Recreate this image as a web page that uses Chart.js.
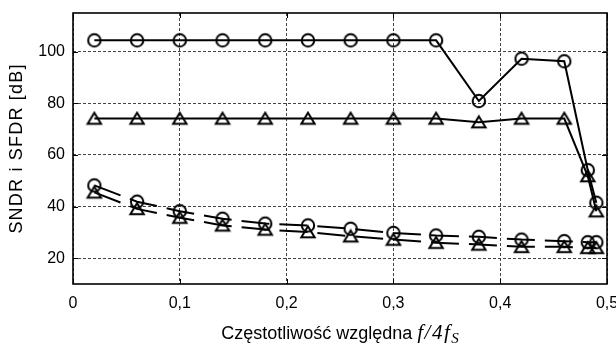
<!DOCTYPE html>
<html>
<head>
<meta charset="utf-8">
<script src="https://cdn.jsdelivr.net/npm/chart.js@4.4.1/dist/chart.umd.min.js"></script>
<style>
  html, body { margin: 0; padding: 0; background: #fff; }
</style>
</head>
<body>
<canvas id="chart" width="616" height="343"></canvas>
<script>
// dane
const xValues = [0.02, 0.06, 0.10, 0.14, 0.18, 0.22, 0.26, 0.30, 0.34, 0.38, 0.42, 0.46, 0.482, 0.49];
const sfdrCircle = [104.4, 104.4, 104.4, 104.4, 104.4, 104.4, 104.4, 104.4, 104.4, 80.9, 97.3, 96.3, 54.1, 41.5];
const sfdrTriangle = [74.1, 74.1, 74.1, 74.1, 74.1, 74.1, 74.1, 74.1, 74.1, 72.7, 74.1, 74.1, 51.8, 38.2];
const sndrCircle = [48.2, 41.9, 38.2, 35.3, 33.4, 32.7, 31.4, 29.8, 28.8, 28.3, 27.2, 26.6, 26.2, 26.2];
const sndrTriangle = [45.5, 39.1, 35.7, 32.7, 31.1, 30.1, 28.5, 27.2, 26.0, 25.3, 24.4, 24.4, 24.0, 24.0];

const xTicks = [0, 0.1, 0.2, 0.3, 0.4, 0.5];
const xTickLabels = ['0', '0,1', '0,2', '0,3', '0,4', '0,5'];
const yTicks = [20, 40, 60, 80, 100];
const yTickLabels = ['20', '40', '60', '80', '100'];

const yTitle = 'SNDR i SFDR [dB]';
const xTitleMain = 'Częstotliwość względna ';
const xTitleItalic = 'f/4f';
const xTitleSub = 'S';

const sansFont = '"Liberation Sans", Arial, sans-serif';
const serifFont = '"Liberation Serif", "Times New Roman", serif';

// znaczniki: puste kółko i trójkąt
function makeCircle() {
    const c = document.createElement('canvas');
    c.width = 18; c.height = 18;
    const g = c.getContext('2d');
    g.lineWidth = 2;
    g.strokeStyle = '#000';
    g.beginPath();
    g.arc(9, 9, 6.2, 0, Math.PI * 2);
    g.stroke();
    return c;
}

function makeTriangle() {
    const c = document.createElement('canvas');
    c.width = 18; c.height = 16;
    const g = c.getContext('2d');
    g.lineWidth = 2;
    g.strokeStyle = '#000';
    g.lineJoin = 'miter';
    g.beginPath();
    g.moveTo(9, 2.2);
    g.lineTo(15.7, 13.3);
    g.lineTo(2.3, 13.3);
    g.closePath();
    g.stroke();
    return c;
}

const circleImg = makeCircle();
const triangleImg = makeTriangle();

function toPoints(ys) {
    return xValues.map((x, i) => ({ x: x, y: ys[i] }));
}

function series(ys, img, dashed) {
    return {
        data: toPoints(ys),
        borderColor: '#000',
        borderWidth: 2,
        borderDash: dashed ? [28, 10] : [],
        pointStyle: img,
        pointRadius: 7,
        pointHoverRadius: 7,
        fill: false,
        tension: 0
    };
}

// ramka, kreski podziałki i opisy osi
const framePlugin = {
    id: 'frame',
    afterDraw(chart) {
        const ctx = chart.ctx;
        const a = chart.chartArea;
        const xs = chart.scales.x;
        const ys = chart.scales.y;
        ctx.save();
        ctx.strokeStyle = '#000';
        ctx.lineWidth = 1;
        ctx.beginPath();
        yTicks.forEach(v => {
            const py = Math.round(ys.getPixelForValue(v)) + 0.5;
            ctx.moveTo(a.left, py); ctx.lineTo(a.left + 5, py);
            ctx.moveTo(a.right, py); ctx.lineTo(a.right - 5, py);
        });
        xTicks.forEach(v => {
            const px = Math.round(xs.getPixelForValue(v)) + 0.5;
            ctx.moveTo(px, a.bottom); ctx.lineTo(px, a.bottom - 5);
            ctx.moveTo(px, a.top); ctx.lineTo(px, a.top + 5);
        });
        ctx.stroke();
        ctx.lineWidth = 1.6;
        ctx.strokeRect(a.left, a.top, a.right - a.left, a.bottom - a.top);

        ctx.fillStyle = '#000';
        // tytuł osi Y
        ctx.save();
        ctx.translate(17.5, (a.top + a.bottom) / 2);
        ctx.rotate(-Math.PI / 2);
        ctx.font = '18px ' + sansFont;
        ctx.letterSpacing = '1.2px';
        ctx.textAlign = 'center';
        ctx.textBaseline = 'middle';
        ctx.fillText(yTitle, 0, 0);
        ctx.restore();

        // tytuł osi X
        ctx.textBaseline = 'alphabetic';
        ctx.textAlign = 'left';
        ctx.font = '18px ' + sansFont;
        ctx.letterSpacing = '0px';
        const w1 = ctx.measureText(xTitleMain).width;
        ctx.font = 'italic 21px ' + serifFont;
        ctx.letterSpacing = '1.5px';
        const w2 = ctx.measureText(xTitleItalic).width;
        ctx.font = 'italic 15px ' + serifFont;
        ctx.letterSpacing = '0px';
        const w3 = ctx.measureText(xTitleSub).width;
        let x0 = (a.left + a.right) / 2 - (w1 + w2 + w3) / 2;
        const base = 339;
        ctx.font = '18px ' + sansFont;
        ctx.letterSpacing = '0px';
        ctx.fillText(xTitleMain, x0, base);
        x0 += w1;
        ctx.font = 'italic 21px ' + serifFont;
        ctx.letterSpacing = '1.5px';
        ctx.fillText(xTitleItalic, x0, base);
        x0 += w2;
        ctx.font = 'italic 15px ' + serifFont;
        ctx.letterSpacing = '0px';
        ctx.fillText(xTitleSub, x0, base + 4);
        ctx.restore();
    }
};

new Chart(document.getElementById('chart'), {
    type: 'line',
    data: {
        datasets: [
            series(sfdrCircle, circleImg, false),
            series(sfdrTriangle, triangleImg, false),
            series(sndrCircle, circleImg, true),
            series(sndrTriangle, triangleImg, true)
        ]
    },
    options: {
        responsive: false,
        animation: false,
        layout: { padding: { left: 0, top: 13, right: 9, bottom: 0 } },
        plugins: {
            legend: { display: false },
            tooltip: { enabled: false }
        },
        scales: {
            x: {
                type: 'linear',
                min: 0,
                max: 0.5,
                afterBuildTicks: s => { s.ticks = xTicks.map(v => ({ value: v })); },
                afterFit: s => { s.height = 59; s.paddingLeft = 0; s.paddingRight = 0; },
                ticks: {
                    callback: (v, i) => xTickLabels[i],
                    font: { family: sansFont, size: 16 },
                    color: '#000',
                    padding: 10,
                    maxRotation: 0,
                    autoSkip: false
                },
                grid: { color: '#444', lineWidth: 1, drawTicks: false },
                border: { display: false, dash: [3, 2] }
            },
            y: {
                min: 10,
                max: 115,
                afterBuildTicks: s => { s.ticks = yTicks.map(v => ({ value: v })); },
                afterFit: s => { s.width = 73; s.paddingTop = 0; s.paddingBottom = 0; },
                ticks: {
                    callback: (v, i) => yTickLabels[i],
                    font: { family: sansFont, size: 16 },
                    color: '#000',
                    padding: 8
                },
                grid: { color: '#444', lineWidth: 1, drawTicks: false },
                border: { display: false, dash: [3, 2] }
            }
        }
    },
    plugins: [framePlugin]
});
</script>
</body>
</html>
